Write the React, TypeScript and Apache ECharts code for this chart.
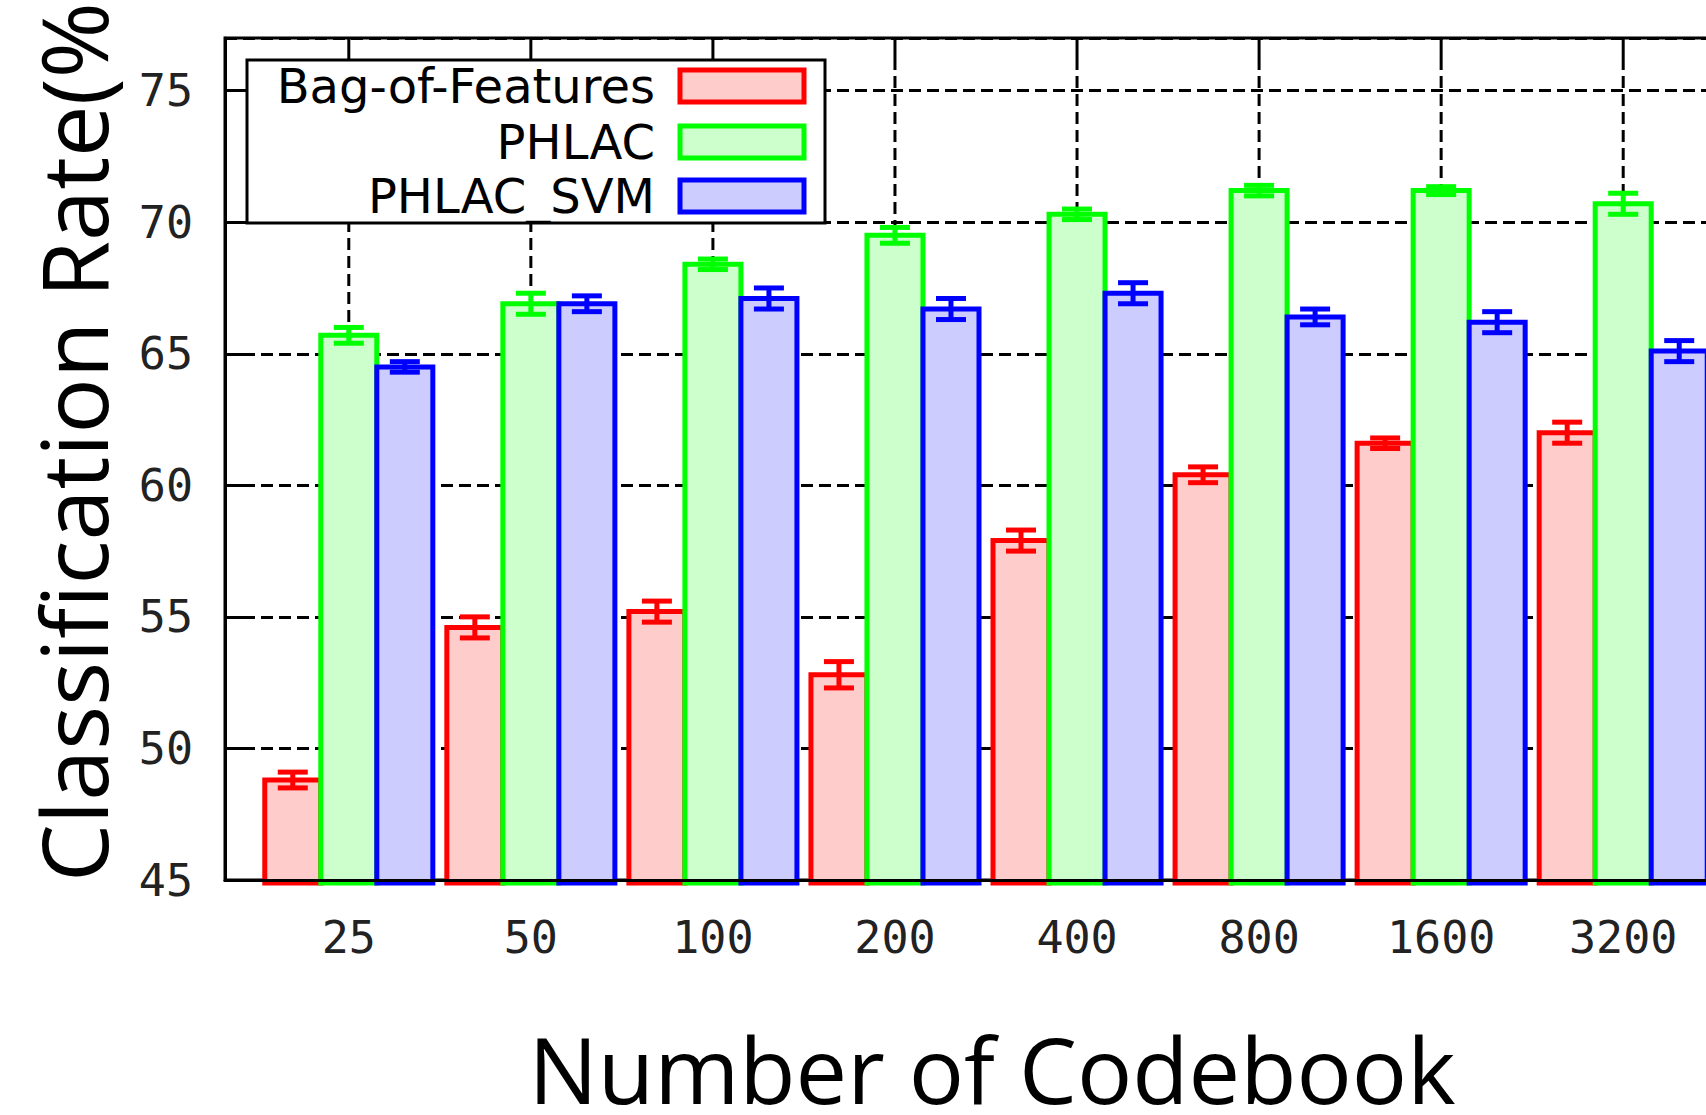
import React, { useEffect, useRef } from "react";
import * as echarts from "echarts";

// ---- data ----
const categories = ["25", "50", "100", "200", "400", "800", "1600", "3200"];
const seriesNames = ["Bag-of-Features", "PHLAC", "PHLAC_SVM"];
const bagOfFeatures = [48.8, 54.6, 55.2, 52.8, 57.9, 60.4, 61.6, 62.0];
const bagOfFeaturesErr = [0.3, 0.4, 0.4, 0.5, 0.4, 0.3, 0.2, 0.4];
const phlac = [65.7, 66.9, 68.4, 69.5, 70.3, 71.2, 71.2, 70.7];
const phlacErr = [0.3, 0.4, 0.2, 0.3, 0.2, 0.2, 0.15, 0.4];
const phlacSvm = [64.5, 66.9, 67.1, 66.7, 67.3, 66.4, 66.2, 65.1];
const phlacSvmErr = [0.2, 0.3, 0.4, 0.4, 0.4, 0.3, 0.4, 0.4];
const xTitle = "Number of Codebook";
const yTitle = "Classification Rate(%)";

// ---- layout / style ----
const Y_MIN = 45;
const Y_MAX = 77;
const X_MIN = -0.68;
const X_MAX = 7.68;
const BW = 1 / 3.25;
const OFFSETS = [-BW, 0, BW];
const STROKES = ["#ff0000", "#00ff00", "#0000ff"];
const FILLS = ["#ffcccc", "#ccffcc", "#ccccff"];
const dash = () => [12, 6];

export default function App() {
  const ref = useRef<HTMLDivElement>(null);
  useEffect(() => {
    if (!ref.current) return;
    const chart = echarts.init(ref.current, null, { renderer: "svg" });
    const values = [bagOfFeatures, phlac, phlacSvm];
    const errs = [bagOfFeaturesErr, phlacErr, phlacSvmErr];

    const barSeries = values.map((vals, s) => ({
      type: "custom",
      name: seriesNames[s],
      z: 3 + s,
      clip: false,
      data: vals.map((v, i) => [i, v, errs[s][i]]),
      renderItem: (params: any, api: any) => {
        const i = api.value(0);
        const v = api.value(1);
        const e = api.value(2);
        const c = i + OFFSETS[s];
        const tl = api.coord([c - BW / 2, v]);
        const br = api.coord([c + BW / 2, Y_MIN]);
        const et = api.coord([c, v + e]);
        const eb = api.coord([c, v - e]);
        const cap = 15;
        return {
          type: "group",
          children: [
            {
              type: "rect",
              shape: { x: tl[0], y: tl[1], width: br[0] - tl[0], height: br[1] - tl[1] + 3 },
              style: { fill: FILLS[s], stroke: STROKES[s], lineWidth: 5 },
            },
            {
              type: "line",
              shape: { x1: et[0], y1: et[1], x2: eb[0], y2: eb[1] },
              style: { stroke: STROKES[s], lineWidth: 5 },
            },
            {
              type: "line",
              shape: { x1: et[0] - cap, y1: et[1], x2: et[0] + cap, y2: et[1] },
              style: { stroke: STROKES[s], lineWidth: 5 },
            },
            {
              type: "line",
              shape: { x1: eb[0] - cap, y1: eb[1], x2: eb[0] + cap, y2: eb[1] },
              style: { stroke: STROKES[s], lineWidth: 5 },
            },
          ],
        };
      },
    }));

    // dashed vertical grid lines, top ticks and tick labels at category positions
    const gridSeries = {
      type: "custom",
      z: 1,
      clip: false,
      silent: true,
      data: categories.map((_, i) => [i]),
      renderItem: (params: any, api: any) => {
        const i = api.value(0);
        const top = api.coord([i, Y_MAX]);
        const bot = api.coord([i, Y_MIN]);
        return {
          type: "group",
          children: [
            {
              type: "line",
              shape: { x1: top[0], y1: top[1] + 20, x2: bot[0], y2: bot[1] },
              style: { stroke: "#000", lineWidth: 3, lineDash: dash() },
            },
            {
              type: "line",
              shape: { x1: top[0], y1: top[1], x2: top[0], y2: top[1] + 20 },
              style: { stroke: "#000", lineWidth: 3 },
            },
            {
              type: "text",
              x: bot[0],
              y: bot[1] + 57,
              style: {
                text: categories[params.dataIndex],
                align: "center",
                verticalAlign: "middle",
                fontFamily: "DejaVu Sans Mono",
                fontSize: 45,
                fill: "#222",
              },
            },
          ],
        };
      },
    };

    const legendY = [86, 142, 196];
    const legendGraphics: any[] = [
      {
        type: "rect",
        z: 20,
        shape: { x: 247, y: 60, width: 578, height: 163 },
        style: { fill: "#fff", stroke: "#000", lineWidth: 3 },
      },
    ];
    seriesNames.forEach((n, k) => {
      legendGraphics.push({
        type: "text",
        z: 21,
        x: 655,
        y: legendY[k],
        style: {
          text: n,
          align: "right",
          verticalAlign: "middle",
          fontFamily: "DejaVu Sans",
          fontSize: 48,
          fill: "#000",
        },
      });
      legendGraphics.push({
        type: "rect",
        z: 21,
        shape: { x: 680, y: legendY[k] - 16, width: 124, height: 32 },
        style: { fill: FILLS[k], stroke: STROKES[k], lineWidth: 5 },
      });
    });

    chart.setOption({
      animation: false,
      backgroundColor: "#fff",
      grid: {
        left: 225,
        top: 38,
        bottom: 235,
        right: 13,
        show: true,
        borderColor: "#000",
        borderWidth: 3,
        backgroundColor: "transparent",
      },
      xAxis: {
        type: "value",
        min: X_MIN,
        max: X_MAX,
        z: 10,
        axisLine: { show: true, onZero: false, lineStyle: { color: "#000", width: 3 } },
        axisTick: { show: false },
        axisLabel: { show: false },
        splitLine: { show: false },
      },
      yAxis: {
        type: "value",
        min: Y_MIN,
        max: Y_MAX,
        interval: 5,
        axisLine: { show: true, onZero: false, lineStyle: { color: "#000", width: 3 } },
        axisTick: { show: true, inside: true, length: 20, lineStyle: { color: "#000", width: 3 } },
        axisLabel: {
          showMaxLabel: false,
          margin: 32,
          fontFamily: "DejaVu Sans Mono",
          fontSize: 45,
          color: "#222",
        },
        splitLine: { show: true, lineStyle: { color: "#000", width: 3, type: dash() } },
      },
      graphic: [
        ...legendGraphics,
        {
          type: "text",
          z: 30,
          x: 992,
          y: 1068,
          style: {
            text: xTitle,
            align: "center",
            verticalAlign: "middle",
            lineHeight: 88,
            fontFamily: "Open Sans",
            fontSize: 92,
            fill: "#000",
          },
        },
        {
          type: "text",
          z: 30,
          x: 72,
          y: 882,
          rotation: Math.PI / 2,
          style: {
            text: yTitle,
            align: "left",
            verticalAlign: "middle",
            fontFamily: "Open Sans",
            fontSize: 92,
            fill: "#000",
          },
        },
      ],
      series: [gridSeries, ...barSeries],
    });
    return () => chart.dispose();
  }, []);
  return (
    <div style={{ position: "fixed", left: 0, top: 0, width: 1706, height: 1115, overflow: "hidden", background: "#fff" }}>
      <div ref={ref} style={{ width: 1760, height: 1115 }} />
    </div>
  );
}
